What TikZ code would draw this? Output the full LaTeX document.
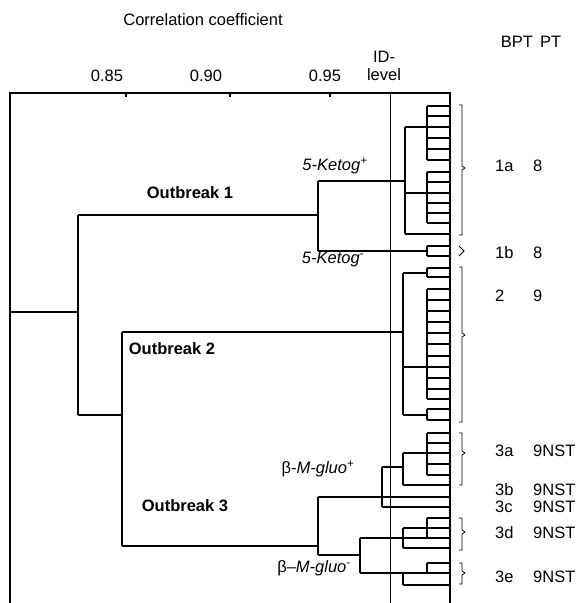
\documentclass[tikz,border=0pt]{standalone}
\usepackage{fontspec}
\setmainfont{Liberation Sans}
\tikzset{
  branch/.style={line width=1.1pt},
  leaf/.style={line width=1.4pt},
  lab/.style={font=\fontsize{16.5}{18}\selectfont, inner sep=0pt},
  blab/.style={lab, font=\fontsize{16.5}{18}\selectfont\bfseries},
  grp/.style={line width=0.8pt}
}
% a run of leaves joined at x=427, ending on the right edge
\newcommand{\leafrun}[3]{%
  \foreach \y in {#1} \draw[leaf] (427,\y) -- (450,\y);
  \draw[leaf] (427,#2) -- (427,#3);
}
% a brace on the right of a group
\newcommand{\grpbrace}[3]{%
  \draw[grp] (459,#1) -- (462,#1) -- (462,{#2-2}) -- (465,#2) -- (462,{#2+2}) -- (462,#3) -- (459,#3);
}
\begin{document}
\begin{tikzpicture}[x=1pt,y=-1pt]
  \useasboundingbox (0,0) rectangle (586,603);

  % ---------------- frame and scale ----------------
  \draw[branch] (10,603) -- (10,93) -- (450,93);
  \draw[line width=2.4pt] (450,92) -- (450,603);
  \draw[line width=0.6pt] (390,93) -- (390,603);
  \foreach \x in {126,230,330} \draw[branch] (\x,93) -- (\x,97);
  \node[lab] (title) at (203,20) {Correlation coefficient};
  \node[lab] (t85) at (107,76) {0.85};
  \node[lab] (t90) at (206,76) {0.90};
  \node[lab] (t95) at (325,76) {0.95};
  \node[lab, align=center] (idl) at (384,66) {ID-\\level};
  \node[lab] (head) at (531,42) {BPT\ \,PT};

  % ---------------- leaves ----------------
  \leafrun{106,116,127,138,149,160}{106}{160}
  \leafrun{172,182,193,203,213,223}{172}{223}
  \leafrun{246,256}{246}{256}
  \leafrun{268,277}{268}{277}
  \leafrun{289,300,311,322,333,344,356,367,378,389,399}{289}{399}
  \leafrun{409,420}{409}{420}
  \leafrun{433,443,453,464,475}{433}{475}
  \leafrun{518,528,538}{518}{538}
  \leafrun{563,573}{563}{573}

  % ---------------- outbreak 1 ----------------
  \draw[branch] (405,127) -- (427,127);
  \draw[branch] (405,193) -- (427,193);
  \draw[leaf] (405,234) -- (450,234);
  \draw[branch] (405,127) -- (405,234);
  \draw[branch] (318,181) -- (405,181);
  \draw[branch] (318,251) -- (427,251);
  \draw[branch] (318,181) -- (318,251);
  \draw[branch] (78,215) -- (318,215);

  % ---------------- outbreak 2 ----------------
  \draw[branch] (403,273) -- (427,273);
  \draw[branch] (403,367) -- (427,367);
  \draw[branch] (403,415) -- (427,415);
  \draw[branch] (403,273) -- (403,415);
  \draw[branch] (122,332) -- (403,332);

  % ---------------- outbreak 3 ----------------
  \draw[branch] (403,453) -- (427,453);
  \draw[leaf] (403,485) -- (450,485);
  \draw[branch] (403,453) -- (403,485);
  \draw[branch] (382,467) -- (403,467);
  \draw[branch] (382,467) -- (382,507);
  \draw[leaf] (382,507) -- (450,507);
  \draw[leaf] (318,497) -- (450,497);
  \draw[branch] (318,497) -- (318,555);
  \draw[branch] (318,555) -- (360,555);
  \draw[branch] (360,538) -- (360,573);
  \draw[branch] (360,538) -- (427,538);
  \draw[branch] (403,528) -- (427,528);
  \draw[leaf] (403,548) -- (450,548);
  \draw[branch] (403,528) -- (403,548);
  \draw[branch] (360,573) -- (427,573);
  \draw[leaf] (403,585) -- (450,585);
  \draw[branch] (403,573) -- (403,585);
  \draw[branch] (122,546) -- (318,546);

  % ---------------- root ----------------
  \draw[branch] (10,312) -- (78,312);
  \draw[branch] (78,215) -- (78,415);
  \draw[branch] (78,415) -- (122,415);
  \draw[branch] (122,332) -- (122,546);

  % ---------------- branch labels ----------------
  \node[blab] (ob1) at (190,193) {Outbreak 1};
  \node[blab] (ob2) at (172,349) {Outbreak 2};
  \node[blab] (ob3) at (185,506) {Outbreak 3};
  \node[lab] (kp) at (335,166) {\itshape 5-Ketog\textsuperscript{+}};
  \node[lab] (km) at (333,260) {\itshape 5-Ketog\textsuperscript{-}};
  \node[lab] (gp) at (318,469) {β-\textit{M-gluo}\textsuperscript{+}};
  \node[lab] (gm) at (314,568) {β–\textit{M-gluo}\textsuperscript{-}};

  % ---------------- groups ----------------
  \grpbrace{105}{168}{235}
  \draw[grp] (459,246) -- (464,251) -- (459,256);
  \grpbrace{267}{335}{422}
  \grpbrace{433}{453}{485}
  \grpbrace{518}{532}{550}
  \grpbrace{563}{573}{584}

  \foreach \n/\b/\p/\y in {g1a/1a/8/166, g1b/1b/8/253, g2/2/9/296, g3a/3a/9NST/451,
                           g3b/3b/9NST/490, g3c/3c/9NST/507, g3d/3d/9NST/533, g3e/3e/9NST/577} {
    \node[lab, anchor=west] (\n) at (495,\y) {\b};
    \node[lab, anchor=west] (\n p) at (533,\y) {\p};
  }
\end{tikzpicture}
\end{document}
